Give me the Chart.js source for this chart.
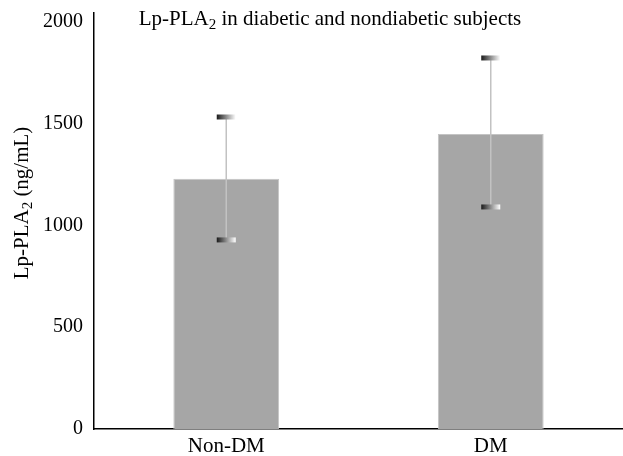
<!DOCTYPE html>
<html>
<head>
<meta charset="utf-8">
<script src="https://cdn.jsdelivr.net/npm/chart.js@4"></script>
<style>
  html, body { margin: 0; padding: 0; background: #fff; }
  #wrap { width: 623px; height: 456px; }
</style>
</head>
<body>
<div id="wrap"><canvas id="chart"></canvas></div>
<script>
//Categories and values
const groups = ["Non-DM", "DM"];
const meanLevel = [1229, 1450];
const errUpper = [1533, 1823];
const errLower = [929, 1091];
const yTicks = [0, 500, 1000, 1500, 2000];

const FONT = "'Liberation Serif', 'Times New Roman', serif";

//Draw text with a "2" subscript after the first part
function drawSubText(ctx, before, sub, after, x, y, size) {
  ctx.font = size + "px " + FONT;
  const w1 = ctx.measureText(before).width;
  const w3 = ctx.measureText(after).width;
  ctx.font = Math.round(size * 0.7) + "px " + FONT;
  const w2 = ctx.measureText(sub).width;
  let start = x - (w1 + w2 + w3) / 2;
  ctx.textAlign = "left";
  ctx.textBaseline = "middle";
  ctx.font = size + "px " + FONT;
  ctx.fillText(before, start, y);
  ctx.font = Math.round(size * 0.7) + "px " + FONT;
  ctx.fillText(sub, start + w1, y + size * 0.3);
  ctx.font = size + "px " + FONT;
  ctx.fillText(after, start + w1 + w2, y);
}

//Error bars with gradient caps, plus title texts
const extras = {
  id: "extras",
  afterDatasetsDraw(chart) {
    const ctx = chart.ctx;
    const x = chart.scales.x;
    const y = chart.scales.y;
    ctx.save();
    for (let i in groups) {
      const cx = x.getPixelForValue(Number(i));
      const top = y.getPixelForValue(errUpper[i]);
      const bot = y.getPixelForValue(errLower[i]);
      ctx.strokeStyle = "#c2c2c2";
      ctx.lineWidth = 1.5;
      ctx.beginPath();
      ctx.moveTo(cx, top);
      ctx.lineTo(cx, bot);
      ctx.stroke();
      for (let py of [top, bot]) {
        const g = ctx.createLinearGradient(cx - 9.5, 0, cx + 9.5, 0);
        g.addColorStop(0, "#1a1a1a");
        g.addColorStop(1, "#ffffff");
        ctx.fillStyle = g;
        ctx.fillRect(cx - 9.5, py - 2.5, 19, 5);
      }
    }
    ctx.fillStyle = "#000";
    drawSubText(ctx, "Lp-PLA", "2", " in diabetic and nondiabetic subjects", 330, 19, 21);
    ctx.translate(22, 203);
    ctx.rotate(-Math.PI / 2);
    drawSubText(ctx, "Lp-PLA", "2", " (ng/mL)", 0, 0, 21);
    ctx.restore();
  },
};

const chart = new Chart(document.getElementById("chart"), {
  type: "bar",
  data: {
    labels: groups,
    datasets: [
      {
        data: meanLevel,
        backgroundColor: "#a6a6a6",
        borderColor: "#c4c4c4",
        borderWidth: 1,
        categoryPercentage: 1,
        barPercentage: 0.4,
      },
    ],
  },
  options: {
    responsive: true,
    maintainAspectRatio: false,
    animation: false,
    layout: { padding: { top: 13, left: 0, right: 0, bottom: 0 } },
    plugins: {
      legend: { display: false },
      tooltip: { enabled: false },
    },
    scales: {
      x: {
        grid: { display: false, drawTicks: false },
        border: { color: "#000", width: 1.5 },
        ticks: { color: "#000", font: { family: FONT, size: 21 }, padding: 5 },
        afterFit: (s) => {
          s.height = 27;
          s.paddingLeft = 0;
          s.paddingRight = 0;
        },
      },
      y: {
        min: 0,
        max: 2044,
        grid: { display: false, drawTicks: false },
        border: { color: "#000", width: 1.5 },
        ticks: {
          color: "#000",
          font: { family: FONT, size: 20 },
          padding: 11,
          callback: (v) => String(v),
        },
        afterBuildTicks: (s) => { s.ticks = yTicks.map((v) => ({ value: v })); },
        afterFit: (s) => {
          s.width = 94;
          s.paddingTop = 0;
          s.paddingBottom = 0;
        },
      },
    },
  },
  plugins: [extras],
});
</script>
</body>
</html>
